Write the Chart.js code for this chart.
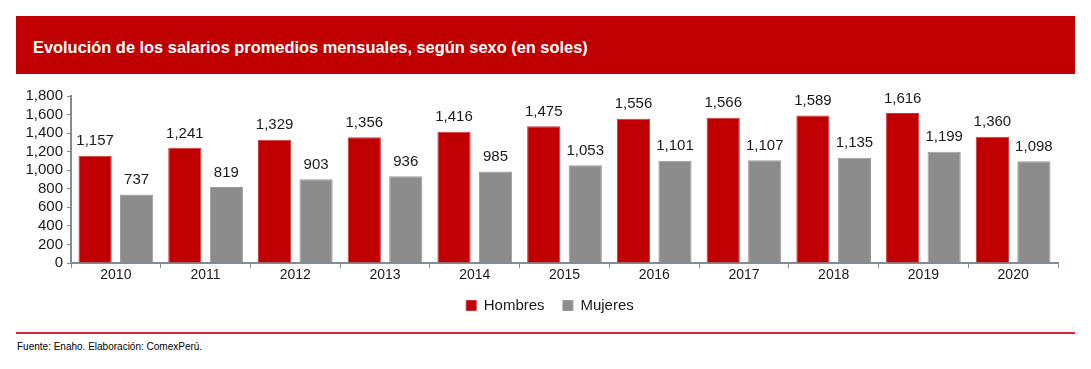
<!DOCTYPE html>
<html><head><meta charset="utf-8">
<script src="https://cdn.jsdelivr.net/npm/chart.js@4"></script>
<style>
html,body{margin:0;padding:0;background:#fff;}
body{width:1091px;height:369px;position:relative;overflow:hidden;font-family:"Liberation Sans",Arial,sans-serif;}
#hdr{position:absolute;left:16px;top:16px;width:1059px;height:58px;background:#c00000;}
#ttl{position:absolute;left:33px;top:38px;color:#fff;font-weight:bold;font-size:16.4px;}
#wrap{position:absolute;left:0;top:80px;width:1091px;height:243px;}
#line{position:absolute;left:16px;top:332px;width:1059px;height:2px;background:#d9243d;}
#src{position:absolute;left:17px;top:341px;font-size:10px;color:#000;}
</style></head><body>
<div id="hdr"></div>
<div id="ttl">Evolución de los salarios promedios mensuales, según sexo (en soles)</div>
<div id="wrap"><canvas id="c" width="1091" height="243"></canvas></div>
<div id="line"></div>
<div id="src">Fuente: Enaho. Elaboración: ComexPerú.</div>
<script>
const years = ["2010","2011","2012","2013","2014","2015","2016","2017","2018","2019","2020"];
const hombres = [1157,1241,1329,1356,1416,1475,1556,1566,1589,1616,1360];
const mujeres = [737,819,903,936,985,1053,1101,1107,1135,1199,1098];
const seriesNames = ["Hombres","Mujeres"];
const yTicks = [0,200,400,600,800,1000,1200,1400,1600,1800];

const FONT = "'Liberation Sans', Arial, sans-serif";
const axisColor = "#7f8e96";
const fmt = v => v.toLocaleString("en-US");
const labelPlugin = {
  id:"lbls",
  afterLayout(chart){
    const l = chart.legend;
    if (l) { l.left += 21; l.right += 21; }
  },
  afterDatasetsDraw(chart){
    const ctx = chart.ctx;
    ctx.save();
    ctx.font = "15px " + FONT;
    ctx.fillStyle = "#1a1a1a";
    ctx.textAlign = "center";
    ctx.textBaseline = "bottom";
    chart.data.datasets.forEach((ds,i)=>{
      chart.getDatasetMeta(i).data.forEach((bar,j)=>{
        ctx.fillText(fmt(ds.data[j]), bar.x, bar.y-7);
      });
    });
    ctx.restore();
  }
};
new Chart(document.getElementById("c"),{
  type:"bar",
  data:{labels:years,datasets:[
    {label:seriesNames[0],data:hombres,backgroundColor:"#c00000",borderColor:"#c8383a",borderWidth:1,categoryPercentage:0.925,barPercentage:0.8},
    {label:seriesNames[1],data:mujeres,backgroundColor:"#8c8c8c",borderColor:"#9a9a9a",borderWidth:1,categoryPercentage:0.925,barPercentage:0.8}
  ]},
  options:{
    responsive:false,animation:false,
    layout:{padding:{top:16,right:33,left:0,bottom:0}},
    plugins:{
      legend:{position:"bottom",labels:{boxWidth:10,boxHeight:10,padding:10,color:"#1a1a1a",font:{size:15,family:FONT},
        generateLabels(chart){
          const items = Chart.defaults.plugins.legend.labels.generateLabels(chart);
          items.forEach((it,i)=>{ if(i===0) it.text = it.text + "  "; });
          return items;
        }}},
      tooltip:{enabled:false}
    },
    scales:{
      x:{
        grid:{display:true,drawOnChartArea:false,drawTicks:true,tickLength:5,color:axisColor,offset:true},
        border:{color:axisColor,width:2},
        ticks:{color:"#1a1a1a",font:{size:14,family:FONT},padding:-1,maxRotation:0},
        afterFit(s){s.height=25;}
      },
      y:{
        min:0,max:1800,
        afterBuildTicks(s){s.ticks=yTicks.map(v=>({value:v}));},
        grid:{display:true,drawOnChartArea:false,drawTicks:true,tickLength:4,color:axisColor},
        border:{color:axisColor,width:2},
        ticks:{color:"#1a1a1a",font:{size:15,family:FONT},padding:4,autoSkip:false,callback:v=>fmt(v)},
        afterFit(s){s.width=71;}
      }
    }
  },
  plugins:[labelPlugin]
});
</script>
</body></html>
